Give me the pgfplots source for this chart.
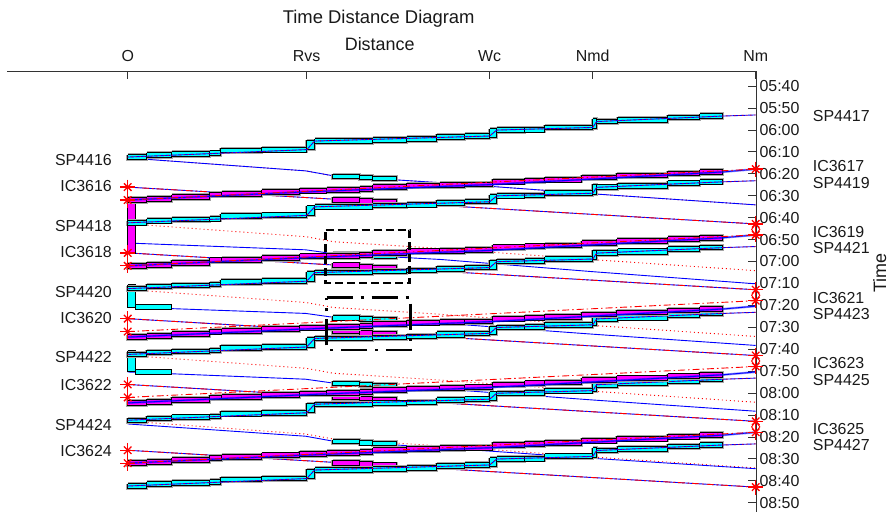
\documentclass[border=0pt]{standalone}
\usepackage{pgfplots}
\pgfplotsset{compat=1.18}
\usepackage{pgfplotstable}
\usepackage{fontspec}
\setmainfont{Liberation Sans}
\usetikzlibrary{calc}

\definecolor{cy}{RGB}{0,255,255}
\definecolor{mg}{RGB}{255,0,255}
\definecolor{bl}{RGB}{0,0,255}
\definecolor{rd}{RGB}{255,0,0}

% block staircase of an SP train: (distance, minutes after departure), nan = new block
\pgfplotstableread[row sep=\\]{
x y\\
0 -1.0\\ 1.9 -1.0\\ 1.9 1.0\\ 0 1.0\\ 0 -1.0\\ nan 0\\
1.9 -1.9\\ 4.4 -1.9\\ 4.4 0.1\\ 1.9 0.1\\ 1.9 -1.9\\ nan 0\\
4.4 -2.4\\ 8.2 -2.4\\ 8.2 -0.4\\ 4.4 -0.4\\ 4.4 -2.4\\ nan 0\\
8.2 -2.8\\ 9.3 -2.8\\ 9.3 -0.8\\ 8.2 -0.8\\ 8.2 -2.8\\ nan 0\\
9.3 -4.1\\ 13.4 -4.1\\ 13.4 -1.9\\ 9.3 -1.9\\ 9.3 -4.1\\ nan 0\\
13.4 -4.5\\ 17.9 -4.5\\ 17.9 -2.3\\ 13.4 -2.3\\ 13.4 -4.5\\ nan 0\\
17.9 -7.7\\ 18.7 -7.7\\ 18.7 -3.3\\ 17.9 -3.3\\ 17.9 -7.7\\ nan 0\\
18.7 -8.3\\ 24.5 -8.3\\ 24.5 -6.3\\ 18.7 -6.3\\ 18.7 -8.3\\ nan 0\\
24.5 -8.8\\ 27.9 -8.8\\ 27.9 -6.8\\ 24.5 -6.8\\ 24.5 -8.8\\ nan 0\\
27.9 -9.2\\ 30.9 -9.2\\ 30.9 -7.2\\ 27.9 -7.2\\ 27.9 -9.2\\ nan 0\\
30.9 -10.3\\ 33.7 -10.3\\ 33.7 -7.9\\ 30.9 -7.9\\ 30.9 -10.3\\ nan 0\\
33.7 -10.6\\ 36.2 -10.6\\ 36.2 -8.6\\ 33.7 -8.6\\ 33.7 -10.6\\ nan 0\\
36.2 -12.9\\ 36.9 -12.9\\ 36.9 -8.9\\ 36.2 -8.9\\ 36.2 -12.9\\ nan 0\\
36.9 -13.3\\ 39.7 -13.3\\ 39.7 -11.3\\ 36.9 -11.3\\ 36.9 -13.3\\ nan 0\\
39.7 -13.6\\ 41.7 -13.6\\ 41.7 -11.4\\ 39.7 -11.4\\ 39.7 -13.6\\ nan 0\\
41.7 -14.6\\ 46.5 -14.6\\ 46.5 -12.4\\ 41.7 -12.4\\ 41.7 -14.6\\ nan 0\\
46.5 -17.5\\ 46.9 -17.5\\ 46.9 -13.1\\ 46.5 -13.1\\ 46.5 -17.5\\ nan 0\\
46.9 -17.3\\ 49.0 -17.3\\ 49.0 -15.1\\ 46.9 -15.1\\ 46.9 -17.3\\ nan 0\\
49.0 -18.1\\ 54.0 -18.1\\ 54.0 -15.7\\ 49.0 -15.7\\ 49.0 -18.1\\ nan 0\\
54.0 -19.1\\ 57.2 -19.1\\ 57.2 -16.9\\ 54.0 -16.9\\ 54.0 -19.1\\ nan 0\\
57.2 -19.7\\ 59.5 -19.7\\ 59.5 -17.7\\ 57.2 -17.7\\ 57.2 -19.7\\
}\spblk

% run line through the SP blocks
\pgfplotstableread[row sep=\\]{
x y\\ 0 0\\ 17.9 -3.4\\ 18.7 -7.3\\ 36.2 -9.6\\ 36.9 -12.3\\ 46.5 -13.5\\ 46.9 -16.2\\ 59.5 -18.7\\ 62.8 -19.2\\
}\spline

% block staircase of an IC train
\pgfplotstableread[row sep=\\]{
x y\\
0 -1.1\\ 1.9 -1.1\\ 1.9 1.1\\ 0 1.1\\ 0 -1.1\\ nan 0\\
1.9 -1.6\\ 4.4 -1.6\\ 4.4 0.6\\ 1.9 0.6\\ 1.9 -1.6\\ nan 0\\
4.4 -2.5\\ 8.2 -2.5\\ 8.2 -0.3\\ 4.4 -0.3\\ 4.4 -2.5\\ nan 0\\
8.2 -3.6\\ 9.4 -3.6\\ 9.4 -1.4\\ 8.2 -1.4\\ 8.2 -3.6\\ nan 0\\
9.4 -3.8\\ 13.4 -3.8\\ 13.4 -1.6\\ 9.4 -1.6\\ 9.4 -3.8\\ nan 0\\
13.4 -4.7\\ 17.2 -4.7\\ 17.2 -2.5\\ 13.4 -2.5\\ 13.4 -4.7\\ nan 0\\
17.2 -5.4\\ 19.9 -5.4\\ 19.9 -3.2\\ 17.2 -3.2\\ 17.2 -5.4\\ nan 0\\
19.9 -5.7\\ 23.2 -5.7\\ 23.2 -3.5\\ 19.9 -3.5\\ 19.9 -5.7\\ nan 0\\
23.2 -6.1\\ 24.5 -6.1\\ 24.5 -3.9\\ 23.2 -3.9\\ 23.2 -6.1\\ nan 0\\
24.5 -7.0\\ 27.9 -7.0\\ 27.9 -4.8\\ 24.5 -4.8\\ 24.5 -7.0\\ nan 0\\
27.9 -7.7\\ 31.2 -7.7\\ 31.2 -5.5\\ 27.9 -5.5\\ 27.9 -7.7\\ nan 0\\
31.2 -7.9\\ 33.7 -7.9\\ 33.7 -5.7\\ 31.2 -5.7\\ 31.2 -7.9\\ nan 0\\
33.7 -8.2\\ 36.5 -8.2\\ 36.5 -6.0\\ 33.7 -6.0\\ 33.7 -8.2\\ nan 0\\
36.5 -9.5\\ 39.7 -9.5\\ 39.7 -7.3\\ 36.5 -7.3\\ 36.5 -9.5\\ nan 0\\
39.7 -10.0\\ 41.7 -10.0\\ 41.7 -7.8\\ 39.7 -7.8\\ 39.7 -10.0\\ nan 0\\
41.7 -10.4\\ 45.4 -10.4\\ 45.4 -8.2\\ 41.7 -8.2\\ 41.7 -10.4\\ nan 0\\
45.4 -11.4\\ 48.9 -11.4\\ 48.9 -9.2\\ 45.4 -9.2\\ 45.4 -11.4\\ nan 0\\
48.9 -12.3\\ 54.0 -12.3\\ 54.0 -10.1\\ 48.9 -10.1\\ 48.9 -12.3\\ nan 0\\
54.0 -13.2\\ 57.2 -13.2\\ 57.2 -11.0\\ 54.0 -11.0\\ 54.0 -13.2\\ nan 0\\
57.2 -13.9\\ 59.5 -13.9\\ 59.5 -11.7\\ 57.2 -11.7\\ 57.2 -13.9\\
}\icblk

\pgfplotstableread[row sep=\\]{
x y\\ 0 0\\ 17.2 -3.6\\ 36.5 -7.1\\ 59.5 -12.8\\ 62.8 -14.1\\
}\icline

% occupied blocks on the opposite runs, between Rvs and Wc
\pgfplotstableread[row sep=\\]{
x y\\
20.5 7.4\\ 23.2 7.4\\ 23.2 9.4\\ 20.5 9.4\\ 20.5 7.4\\ nan 0\\
23.2 7.9\\ 24.5 7.9\\ 24.5 9.9\\ 23.2 9.9\\ 23.2 7.9\\ nan 0\\
24.5 8.3\\ 26.9 8.3\\ 26.9 10.3\\ 24.5 10.3\\ 24.5 8.3\\
}\spdblk
\pgfplotstableread[row sep=\\]{
x y\\
20.5 4.6\\ 23.2 4.6\\ 23.2 6.8\\ 20.5 6.8\\ 20.5 4.6\\ nan 0\\
23.2 5.3\\ 24.5 5.3\\ 24.5 7.5\\ 23.2 7.5\\ 23.2 5.3\\ nan 0\\
24.5 5.8\\ 26.9 5.8\\ 26.9 8.0\\ 24.5 8.0\\ 24.5 5.8\\
}\icdblk

\pgfplotsset{
  halo/.style={draw=black!35, line width=2.8bp, unbounded coords=jump},
  spb/.style={fill=cy, draw=black, line width=1bp, unbounded coords=jump},
  icb/.style={fill=mg, draw=black, line width=1bp, unbounded coords=jump},
  run/.style={bl, line width=0.9bp},
  icrun/.style={bl, line width=2.2bp, opacity=0.45},
  plandot/.style={rd, line width=0.9bp, dash pattern=on 1bp off 3bp},
  plandd/.style={rd, line width=0.9bp, dash pattern=on 7bp off 3bp on 1.5bp off 3bp},
}

\begin{document}
\begin{tikzpicture}
\begin{axis}[
  scale only axis, width=749bp, height=441bp,
  xmin=-12.07, xmax=62.83, ymin=333.16, ymax=534.25, y dir=reverse,
  axis x line*=top, axis y line*=right,
  axis line style={draw=black!80, line width=0.7bp},
  tick style={draw=black!80, line width=0.7bp},
  tick align=inside, major tick length=8bp,
  xtick={0,17.9,36.2,46.5,62.8}, xticklabels={O,Rvs,Wc,Nmd,Nm},
  xticklabel shift=6bp,
  ytick={340,350,...,530},
  yticklabels={05:40,05:50,06:00,06:10,06:20,06:30,06:40,06:50,07:00,07:10,07:20,07:30,07:40,07:50,08:00,08:10,08:20,08:30,08:40,08:50},
  ticklabel style={font=\fontsize{16}{19}\selectfont, text=black!90},
  clip=false,
]
\coordinate (tl) at (axis cs:-12.07,333.16);

% opposite runs: SP planned (dotted) and actual (blue)
\addplot[plandot] coordinates {(0,372.8)(17.8,378.7)(20.6,381.0)(31.3,384.1)(46.6,389.2)(62.8,394.2)};
\addplot[plandot] coordinates {(0,402.8)(17.8,408.7)(20.6,411.0)(31.3,414.1)(46.6,419.2)(62.8,424.2)};
\addplot[plandot] coordinates {(0,432.8)(17.8,438.7)(20.6,441.0)(31.3,444.1)(46.6,449.2)(62.8,454.2)};
\addplot[plandot] coordinates {(0,462.8)(17.8,468.7)(20.6,471.0)(31.3,474.1)(46.6,479.2)(62.8,484.2)};
\addplot[plandot] coordinates {(0,492.8)(17.8,498.7)(20.6,501.0)(31.3,504.1)(46.6,509.2)(62.8,514.2)};
\addplot[run] coordinates {(0,372.8)(17.8,378.7)(20.6,381.0)(31.3,384.1)(46.6,389.2)(62.8,394.2)};
\addplot[run] coordinates {(0,411.6)(17.8,414.7)(20.6,416.5)(31.3,419.1)(46.6,424.7)(62.8,430.2)};
\addplot[run] coordinates {(0,440.8)(17.8,443.7)(20.6,445.5)(31.3,448.1)(46.6,453.2)(62.8,458.3)};
\addplot[run] coordinates {(0,470.4)(17.8,473.7)(20.6,475.5)(31.3,478.1)(46.6,483.2)(62.8,488.3)};
\addplot[run] coordinates {(0,494.1)(17.8,499.7)(20.6,502.0)(31.3,504.9)(46.6,509.8)(62.8,514.5)};

% opposite runs: IC
\addplot[run] coordinates {(0,386.1)(62.8,402.9)};
\addplot[run] coordinates {(0,416.1)(62.8,432.9)};
\addplot[run] coordinates {(0,446.1)(62.8,462.9)};
\addplot[run] coordinates {(0,476.1)(62.8,492.9)};
\addplot[run] coordinates {(0,506.1)(62.8,522.9)};
\addplot[plandd] coordinates {(0,386.1)(62.8,402.9)};
\addplot[plandd] coordinates {(0,416.1)(62.8,432.9)};
\addplot[plandd] coordinates {(0,446.1)(62.8,462.9)};
\addplot[plandd] coordinates {(0,476.1)(62.8,492.9)};
\addplot[plandd] coordinates {(0,506.1)(62.8,522.9)};

% blocks on the opposite runs
\pgfplotsinvokeforeach{372.8,408.3,437.3,467.3,493.8}{
  \addplot[halo] table[x=x, y expr=\thisrow{y}+#1] {\spdblk};
  \addplot[spb] table[x=x, y expr=\thisrow{y}+#1] {\spdblk};
}
\pgfplotsinvokeforeach{386.1,416.1,446.1,476.1,506.1}{
  \addplot[halo] table[x=x, y expr=\thisrow{y}+#1] {\icdblk};
  \addplot[icb] table[x=x, y expr=\thisrow{y}+#1] {\icdblk};
}

% dwell at O
\addplot[icb] coordinates {(0,392.9)(0.8,392.9)(0.8,416.2)(0,416.2)(0,392.9)};
\addplot[spb] coordinates {(0,430.7)(0.8,430.7)(0.8,440.8)(0,440.8)(0,430.7)};
\addplot[spb] coordinates {(0.8,439.8)(4.4,439.8)(4.4,441.8)(0.8,441.8)(0.8,439.8)};
\addplot[spb] coordinates {(0,460.8)(0.8,460.8)(0.8,470.4)(0,470.4)(0,460.8)};
\addplot[spb] coordinates {(0.8,469.4)(4.4,469.4)(4.4,471.4)(0.8,471.4)(0.8,469.4)};

% SP staircases towards Nm
\pgfplotsinvokeforeach{372.4,402.4,432.4,462.4,492.4,522.4}{
  \addplot[halo] table[x=x, y expr=\thisrow{y}+#1] {\spblk};
  \addplot[spb] table[x=x, y expr=\thisrow{y}+#1] {\spblk};
  \addplot[run] table[x=x, y expr=\thisrow{y}+#1] {\spline};
  \addplot[plandot] table[x=x, y expr=\thisrow{y}+#1] {\spline};
}
% IC staircases towards Nm
\pgfplotsinvokeforeach{392,422,454.5,484.5,512}{
  \addplot[halo] table[x=x, y expr=\thisrow{y}+#1] {\icblk};
  \addplot[icb] table[x=x, y expr=\thisrow{y}+#1] {\icblk};
  \addplot[icrun] table[x=x, y expr=\thisrow{y}+#1] {\icline};
  \addplot[run] table[x=x, y expr=\thisrow{y}+#1] {\icline};
}
\addplot[plandd] coordinates {(0,392)(62.8,377.9)};
\addplot[plandd] coordinates {(0,422)(62.8,407.9)};
\addplot[plandd] coordinates {(0,452)(62.8,437.9)};
\addplot[plandd] coordinates {(0,482)(62.8,467.9)};
\addplot[plandd] coordinates {(0,512)(62.8,497.9)};

% conflict windows
\addplot[black, line width=2.8bp, dash pattern=on 8bp off 4bp]
  coordinates {(19.8,405.7)(28.2,405.7)(28.2,429.8)(19.8,429.8)(19.8,405.7)};
\addplot[black, line width=2.8bp, dash pattern=on 26bp off 8bp on 3bp off 8bp]
  coordinates {(19.9,436.5)(28.3,436.5)(28.3,460.4)(19.9,460.4)(19.9,436.5)};

% IC stops
\addplot[only marks, rd, mark=+, mark size=7.5bp, line width=1.3bp]
  coordinates {(0,386.1)(0,392)(0,416.1)(0,422)(0,446.1)(0,452)(0,476.1)(0,482)(0,506.1)(0,512)
  (62.8,377.9)(62.8,407.9)(62.8,437.9)(62.8,467.9)(62.8,497.9)
  (62.8,402.9)(62.8,432.9)(62.8,462.9)(62.8,492.9)(62.8,522.9)};
\addplot[only marks, rd, mark=x, mark size=5.3bp, line width=1.3bp]
  coordinates {(0,386.1)(0,392)(0,416.1)(0,422)(0,446.1)(0,452)(0,476.1)(0,482)(0,506.1)(0,512)
  (62.8,377.9)(62.8,407.9)(62.8,437.9)(62.8,467.9)(62.8,497.9)
  (62.8,402.9)(62.8,432.9)(62.8,462.9)(62.8,492.9)(62.8,522.9)};
\addplot[only marks, rd, mark=diamond, mark size=5.5bp, line width=0.9bp, mark options={fill=none}]
  coordinates {(62.8,405.4)(62.8,435.4)(62.8,465.4)(62.8,495.4)};

% train names
\begin{scope}[every node/.style={font=\fontsize{16}{19}\selectfont, text=black!90, inner sep=0pt}]
\node[anchor=east] at (axis cs:-1.57,373.7) {SP4416};
\node[anchor=east] at (axis cs:-1.57,385.7) {IC3616};
\node[anchor=east] at (axis cs:-1.57,403.9) {SP4418};
\node[anchor=east] at (axis cs:-1.57,415.9) {IC3618};
\node[anchor=east] at (axis cs:-1.57,433.8) {SP4420};
\node[anchor=east] at (axis cs:-1.57,445.9) {IC3620};
\node[anchor=east] at (axis cs:-1.57,463.8) {SP4422};
\node[anchor=east] at (axis cs:-1.57,476.3) {IC3622};
\node[anchor=east] at (axis cs:-1.57,494.6) {SP4424};
\node[anchor=east] at (axis cs:-1.57,506.5) {IC3624};
\node[anchor=west] at (axis cs:68.5,353.8) {SP4417};
\node[anchor=west] at (axis cs:68.5,376.3) {IC3617};
\node[anchor=west] at (axis cs:68.5,384.1) {SP4419};
\node[anchor=west] at (axis cs:68.5,406.8) {IC3619};
\node[anchor=west] at (axis cs:68.5,413.9) {SP4421};
\node[anchor=west] at (axis cs:68.5,436.8) {IC3621};
\node[anchor=west] at (axis cs:68.5,444.0) {SP4423};
\node[anchor=west] at (axis cs:68.5,466.4) {IC3623};
\node[anchor=west] at (axis cs:68.5,474.0) {SP4425};
\node[anchor=west] at (axis cs:68.5,496.5) {IC3625};
\node[anchor=west] at (axis cs:68.5,503.8) {SP4427};
\node[font=\fontsize{18.5}{22}\selectfont] at (axis cs:25.1,309.4) {Time Distance Diagram};
\node[font=\fontsize{18}{22}\selectfont] at (axis cs:25.2,320.8) {Distance};
\node[font=\fontsize{18}{22}\selectfont, rotate=90] at (axis cs:75.2,425.3) {Time};
\end{scope}
\end{axis}
\pgfresetboundingbox
\path[use as bounding box] ($(tl)+(-7bp,71bp)$) rectangle ++(889bp,-512bp);
\end{tikzpicture}
\end{document}
